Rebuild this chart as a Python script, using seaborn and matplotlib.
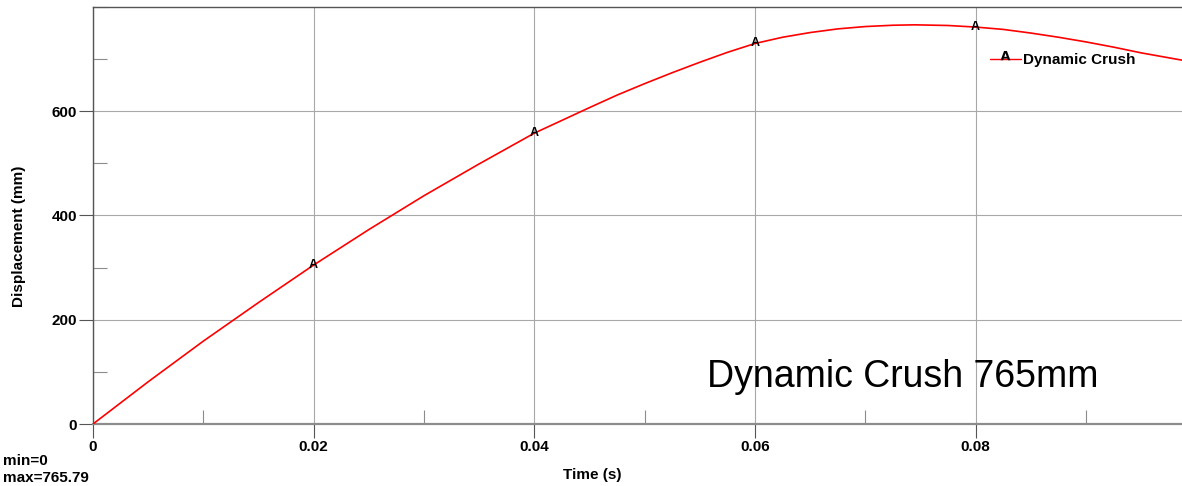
import matplotlib
matplotlib.use("Agg")
import matplotlib.pyplot as plt
import numpy as np
import pandas as pd
import seaborn as sns
from matplotlib.lines import Line2D
from matplotlib.markers import MarkerStyle
from matplotlib.transforms import Affine2D
from matplotlib.ticker import MultipleLocator

sns.set_style("white")
plt.rcParams['font.family'] = ['Liberation Sans', 'DejaVu Sans']
plt.rcParams['text.color'] = 'black'
plt.rcParams['axes.labelcolor'] = 'black'
plt.rcParams['xtick.labelcolor'] = 'black'
plt.rcParams['ytick.labelcolor'] = 'black'

# curve
time_s = [0.0, 0.005, 0.01, 0.015, 0.02, 0.025, 0.03, 0.035, 0.04, 0.045,
          0.0475, 0.05, 0.0525, 0.055, 0.0575, 0.06, 0.0625, 0.065, 0.0675,
          0.07, 0.0725, 0.0745, 0.0775, 0.08, 0.0825, 0.085, 0.0875, 0.09,
          0.0925, 0.095, 0.0987]
disp_mm = [0, 81, 159, 233, 305, 373, 438, 499, 558, 607,
           631, 653, 674, 694, 713, 730, 742, 751, 758,
           762.5, 765, 765.79, 764.5, 761.5, 757, 750, 742, 733,
           723, 712, 698]

marker_t = [0.02, 0.04, 0.06, 0.08]
marker_d = [305, 558, 730, 761.5]

series_name = "Dynamic Crush"
note = "Dynamic Crush 765mm"
stats = ["min=0", "max=765.79"]

df = pd.DataFrame({"Time (s)": time_s, "Displacement (mm)": disp_mm})

fig = plt.figure(figsize=(11.82, 4.86), dpi=100)
ax = fig.add_axes([93 / 1182, 1 - 424 / 486, 1 - 93 / 1182, (424 - 7) / 486])

sns.lineplot(data=df, x="Time (s)", y="Displacement (mm)", color="red",
             linewidth=1.2, ax=ax, zorder=3)

for t, d in zip(marker_t, marker_d):
    ax.text(t, d, "A", ha="center", va="center", fontsize=9,
            fontweight="bold", color="black", zorder=4)

ax.set_xlim(0, 0.0987)
ax.set_ylim(0, 800)

ax.xaxis.set_major_locator(MultipleLocator(0.02))
ax.xaxis.set_minor_locator(MultipleLocator(0.01))
ax.yaxis.set_major_locator(MultipleLocator(200))
ax.yaxis.set_minor_locator(MultipleLocator(100))
ax.set_xticks([0, 0.02, 0.04, 0.06, 0.08])
ax.set_xticklabels(["0", "0.02", "0.04", "0.06", "0.08"])
ax.set_yticks([0, 200, 400, 600])
ax.set_yticklabels(["0", "200", "400", "600"])

ax.grid(True, which="major", color="#a8a8a8", linewidth=0.8)
ax.tick_params(axis="both", which="major", direction="out", length=10,
               width=0.8, color="#555555", labelsize=11, pad=1.5)
ax.tick_params(axis="both", which="minor", direction="in", length=10,
               width=0.8, color="#8c8c8c")
ax.tick_params(axis="x", which="both", bottom=True)
ax.tick_params(axis="y", which="both", left=True)
for lab in ax.get_xticklabels() + ax.get_yticklabels():
    lab.set_fontweight("bold")

ax.spines["right"].set_visible(False)
ax.spines["top"].set_color("#555555")
ax.spines["top"].set_linewidth(1.0)
ax.spines["left"].set_color("#555555")
ax.spines["left"].set_linewidth(1.0)
ax.spines["bottom"].set_color("#8c8c8c")
ax.spines["bottom"].set_linewidth(1.6)

ax.set_xlabel("Time (s)", fontsize=11, fontweight="bold")
ax.set_ylabel("Displacement (mm)", fontsize=11, fontweight="bold")
ax.xaxis.set_label_coords((592 - 93) / 1089, (424 - 475) / 417)
ax.yaxis.set_label_coords((19 - 93) / 1089, (424 - 236) / 417)
ax.xaxis.label.set_va("center")
ax.yaxis.label.set_va("center")

a_marker = MarkerStyle(r"$\mathbf{A}$", transform=Affine2D().translate(0, 0.4))
handle = Line2D([], [], color="red", linewidth=1.0, marker=a_marker,
                markersize=7, markerfacecolor="black", markeredgecolor="black",
                markeredgewidth=0)
ax.legend([handle], [series_name], loc="center left",
          bbox_to_anchor=(990 / 1182, 1 - 60 / 486), bbox_transform=fig.transFigure,
          frameon=False, borderpad=0, borderaxespad=0, handlelength=2.0,
          handletextpad=0.15, prop={"size": 11, "weight": "bold"})

ax.text((707 - 93) / 11037.5, 71, note, fontsize=27, color="black",
        ha="left", va="baseline")

fig.text(3 / 1182, 1 - 461 / 486, stats[0], fontsize=11, fontweight="bold",
         va="center", ha="left")
fig.text(3 / 1182, 1 - 478 / 486, stats[1], fontsize=11, fontweight="bold",
         va="center", ha="left")

fig.savefig("out.png", dpi=100)
